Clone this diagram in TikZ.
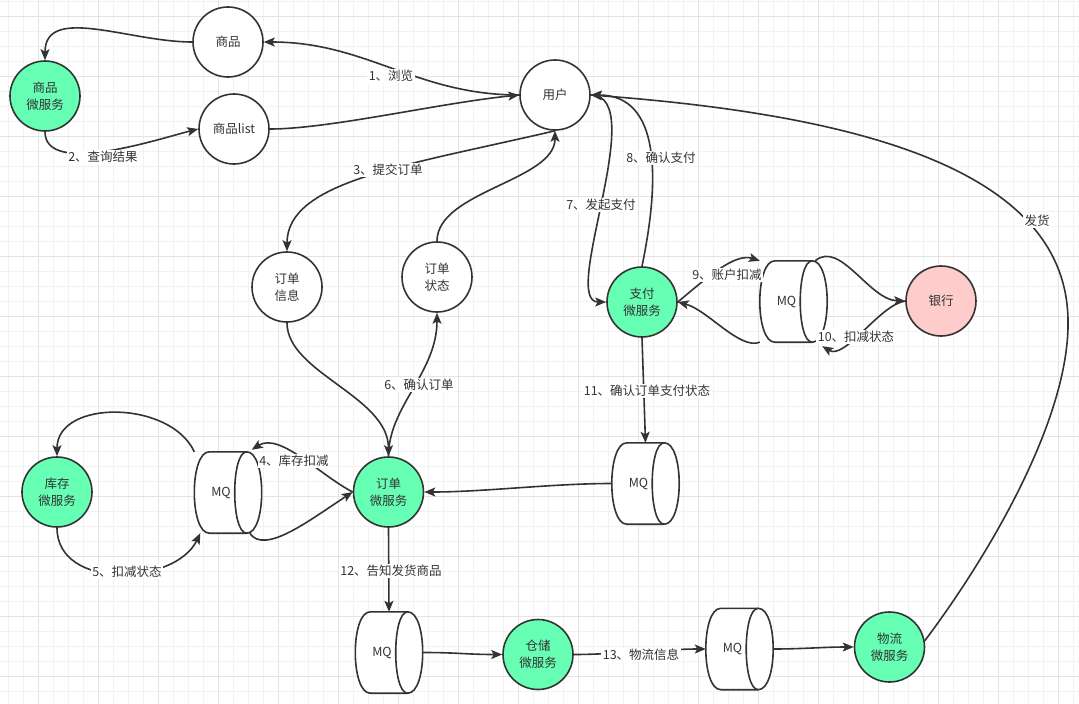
\documentclass[tikz,border=0pt]{standalone}
\usepackage{fontspec}
\setmainfont{Noto Sans CJK SC}
\usetikzlibrary{arrows.meta,calc}
\definecolor{linec}{HTML}{333333}
\definecolor{txtc}{HTML}{333333}
\definecolor{msgreen}{HTML}{66FFB3}
\definecolor{bankpink}{HTML}{FFCCCC}
\definecolor{gridminor}{HTML}{F2F2F2}
\definecolor{gridmajor}{HTML}{E4E4E4}
\newcommand{\fs}{\fontsize{12.5}{17}\selectfont}
\tikzset{
  circ/.style={circle, draw=linec, line width=1.6pt, minimum size=70pt, inner sep=0pt,
    align=center, font=\fs, text=txtc, fill=white},
  ms/.style={circ, fill=msgreen},
  bankst/.style={circ, fill=bankpink},
  mqn/.style={rectangle, minimum width=67pt, minimum height=81pt, inner sep=0pt},
  mqtxt/.style={font=\fs, text=txtc, inner sep=0pt},
  cyl/.style={draw=linec, fill=white, line width=1.6pt, line join=round},
  cylline/.style={draw=linec, line width=1.6pt},
  edge/.style={draw=linec, line width=1.6pt, -{Stealth[length=11pt,width=9pt,inset=2.5pt]}},
  plain/.style={draw=linec, line width=1.6pt},
  lbl/.style={fill=white, text=txtc, font=\fs, inner sep=1.5pt},
}
\newcommand{\mqbox}[2]{%
  \node[mqn] (#1) at (#2) {};
  \path[cyl] ($(#1.north west)+(15,0)$) -- ($(#1.north east)+(-15,0)$)
     .. controls ($(#1.north east)+(5,0)$) and ($(#1.south east)+(5,0)$) .. ($(#1.south east)+(-15,0)$)
     -- ($(#1.south west)+(15,0)$)
     .. controls ($(#1.south west)+(-5,0)$) and ($(#1.north west)+(-5,0)$) .. cycle;
  \draw[cylline] ($(#1.north east)+(-15,0)$) .. controls ($(#1.north east)+(-31,0)$) and ($(#1.south east)+(-31,0)$) .. ($(#1.south east)+(-15,0)$);
  \node[mqtxt] (#1t) at ($(#1.center)+(-7,0)$) {MQ};
}
\begin{document}
\begin{tikzpicture}[x=1pt,y=-1pt]
\useasboundingbox (0,0) rectangle (1079,704);
\fill[white] (0,0) rectangle (1079,704);
% grid
\foreach \x in {8.33,23.33,...,1079} \draw[gridminor, line width=0.8pt] (\x,0) -- (\x,704);
\foreach \y in {1.67,16.67,...,704} \draw[gridminor, line width=0.8pt] (0,\y) -- (1079,\y);
\foreach \x in {38.33,98.33,...,1079} \draw[gridmajor, line width=0.8pt] (\x,0) -- (\x,704);
\foreach \y in {16.67,76.67,...,704} \draw[gridmajor, line width=0.8pt] (0,\y) -- (1079,\y);

% nodes
\node[circ] (sp) at (228,42) {商品};
\node[ms] (spms) at (45,96) {商品\\微服务};
\node[circ] (splist) at (234,129) {商品list};
\node[circ] (user) at (555,95) {用户};
\node[circ] (ddinfo) at (287,287) {订单\\信息};
\node[circ] (ddstat) at (437,277) {订单\\状态};
\node[ms] (payms) at (642,302) {支付\\微服务};
\node[bankst] (bank) at (941,301) {银行};
\node[ms] (kcms) at (57,492) {库存\\微服务};
\node[ms] (ddms) at (388.5,492) {订单\\微服务};
\node[ms] (ccms) at (538,654.5) {仓储\\微服务};
\node[ms] (wlms) at (889.5,647) {物流\\微服务};
\mqbox{mqpay}{793.5,301.5}
\mqbox{mq11}{645.5,483.5}
\mqbox{mqkc}{228,492.5}
\mqbox{mq12}{389,652.5}
\mqbox{mq13}{739.5,649}

% edges
\draw[edge] (user.west) .. controls +(-103,0) and +(103,0) .. (sp.east);
\draw[edge] (sp.west) .. controls +(-63,0) and +(0,-56) .. (spms.north);
\draw[edge] (spms.south) .. controls +(0,45) and +(-40,10) .. (splist.west);
\draw[edge] (splist.east) .. controls +(60,0) and +(-80,8) .. (user.west);
\draw[edge] (user.south) .. controls +(-150,35) and +(0,-70) .. (ddinfo.north);
\draw[edge] (ddstat.north) .. controls +(0,-50) and +(0,50) .. (user.south);
\draw[edge] (ddinfo.south) .. controls +(0,50) and +(0,-60) .. (ddms.north);
\draw[edge] (ddms.north) .. controls +(0,-50) and +(0,60) .. (ddstat.south);
\draw[edge] (user.east) .. controls +(60,0) and +(-47,0) .. (payms.west);
\draw[edge] (payms.north) .. controls +(18,-87) and +(70,0) .. (user.east);
\draw[edge] (wlms.10) .. controls +(61,-81) and (1070,420) .. (1068,320)
   .. controls (1066,170) and (860,115) .. (user.east);
\draw[edge] (payms.east) .. controls +(30,-25) and +(-25,-8) .. (mqpay.north west);
\draw[edge] (mqpay.south west) .. controls +(-20,8) and +(30,8) .. (payms.east);
\draw[edge] ($(mqpay.north east)+(-12,0)$) .. controls +(25,-21) and +(-36,-1) .. (bank.west);
\draw[edge] (bank.west) .. controls +(-26,4) and +(23,14) .. ($(mqpay.south east)+(-5,4)$);
\draw[edge] (payms.south) -- (mq11.north);
\draw[edge] (mq11.west) .. controls +(-60,0) and +(60,0) .. (ddms.east);
\draw[edge] (ddms.west) .. controls +(-33,-17) and +(28,-18) .. ($(mqkc.north east)+(-10,-2)$);
\draw[edge] ($(mqkc.south east)+(-12,0)$) .. controls +(15,22) and +(-43,28) .. (ddms.west);
\draw[edge] (mqkc.north west) .. controls +(-24,-52) and +(0,-57) .. (kcms.north);
\draw[edge] (kcms.south) .. controls +(0,63) and +(-25,52) .. ($(mqkc.south west)+(6,0)$);
\draw[edge] (ddms.south) -- (mq12.north);
\draw[edge] (mq12.east) .. controls +(35,0) and +(-35,0) .. (ccms.west);
\draw[edge] (ccms.east) .. controls +(40,0) and +(-40,0) .. (mq13.west);
\draw[edge] (mq13.east) .. controls +(30,0) and +(-30,0) .. (wlms.west);

% labels
\node[lbl] (l1) at (391,76) {1、浏览};
\node[lbl] (l2) at (103,157) {2、查询结果};
\node[lbl] (l3) at (388,170) {3、提交订单};
\node[lbl] (l4) at (294,461) {4、库存扣减};
\node[lbl] (l5) at (127,572) {5、扣减状态};
\node[lbl] (l6) at (419,385) {6、确认订单};
\node[lbl] (l7) at (601,205) {7、发起支付};
\node[lbl] (l8) at (661,158) {8、确认支付};
\node[lbl] (l9) at (727,275) {9、账户扣减};
\node[lbl] (l10) at (856,337) {10、扣减状态};
\node[lbl] (l11) at (647,391) {11、确认订单支付状态};
\node[lbl] (l12) at (391,571) {12、告知发货商品};
\node[lbl] (l13) at (641,655) {13、物流信息};
\node[lbl] (lfh) at (1037,221) {发货};
\end{tikzpicture}
\end{document}
